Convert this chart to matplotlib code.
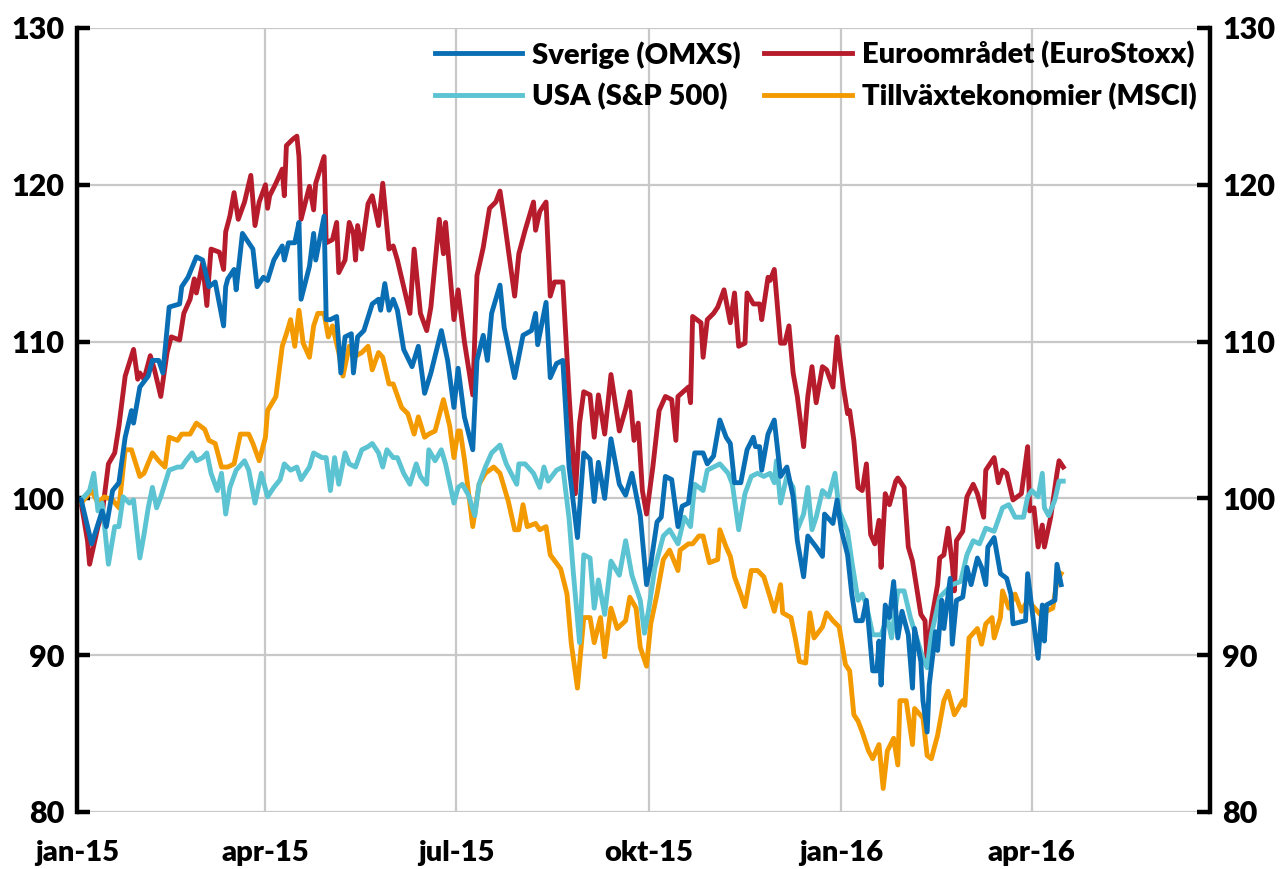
import matplotlib
matplotlib.use('Agg')
import matplotlib.pyplot as plt
import pandas as pd

plt.rcParams['font.family'] = ['Lato', 'DejaVu Sans']
plt.rcParams['font.weight'] = 'heavy'

START = pd.Timestamp('2015-01-01')

# index, 2015-01-01 = 100; x = dagar sedan start
sverige_dag = [0, 2, 7, 12, 14, 17, 20, 23, 26, 27, 30, 34, 36, 39, 41, 44, 49, 50, 53, 57, 60, 63, 66, 70, 71, 72,
               75, 76, 79, 82, 84, 86, 89, 91, 94, 98, 99, 101, 104, 106, 107, 111, 113, 114, 118, 119, 121, 124, 126,
               128, 131, 132, 134, 137, 141, 144, 145, 147, 149, 151, 153, 156, 160, 163, 166, 169, 174, 177, 180, 182,
               185, 189, 191, 194, 196, 198, 202, 204, 209, 213, 217, 219, 220, 224, 226, 229, 232, 235, 239, 242, 245,
               247, 249, 252, 255, 259, 262, 265, 269, 272, 274, 277, 279, 281, 284, 287, 289, 292, 295, 299, 301, 304,
               307, 310, 312, 314, 317, 320, 323, 324, 326, 327, 330, 333, 336, 339, 342, 344, 347, 349, 353, 356, 357,
               361, 363, 365, 368, 370, 372, 375, 377, 380, 382, 383, 384, 386, 388, 390, 392, 394, 397, 399, 400, 403,
               404, 406, 407, 410, 411, 413, 414, 417, 418, 420, 423, 425, 427, 430, 432, 434, 435, 438, 441, 444, 446,
               447, 453, 454, 456, 459, 461, 462, 463, 467, 468, 470]
sverige = [100.0, 99.9, 97.1, 99.2, 98.2, 100.5, 101.0, 103.9, 105.6, 104.8, 107.1, 107.8, 108.8, 108.8, 108.0, 112.2,
           112.4, 113.5, 114.1, 115.4, 115.2, 113.5, 113.8, 111.0, 113.5, 114.0, 114.6, 113.3, 116.9, 116.3, 115.9,
           113.5, 114.1, 113.9, 115.2, 116.1, 115.2, 116.3, 116.3, 117.6, 112.7, 114.8, 116.9, 115.2, 118.0, 111.4,
           111.4, 111.6, 108.0, 110.3, 110.5, 108.0, 110.3, 110.7, 112.4, 112.7, 112.0, 113.7, 112.0, 112.7, 112.0,
           109.5, 108.4, 109.7, 106.7, 108.0, 110.7, 108.8, 105.8, 108.3, 105.2, 103.1, 108.8, 110.4, 108.8, 111.8,
           113.6, 110.9, 107.7, 110.4, 110.7, 111.8, 109.8, 112.5, 107.7, 108.6, 108.8, 102.0, 97.5, 102.9, 102.5,
           99.8, 102.3, 100.0, 103.8, 100.9, 100.2, 101.6, 98.9, 94.5, 95.8, 98.5, 98.8, 101.4, 101.2, 98.2, 99.5,
           99.7, 102.9, 102.9, 102.2, 102.7, 105.0, 103.9, 103.5, 101.0, 101.0, 103.1, 103.9, 103.3, 103.3, 101.8,
           104.1, 105.0, 101.4, 102.0, 100.1, 97.3, 95.0, 97.6, 96.9, 96.3, 99.0, 98.4, 99.9, 98.0, 96.4, 93.9, 92.2,
           92.2, 93.5, 89.0, 89.0, 90.9, 88.1, 93.2, 92.4, 94.7, 91.1, 92.8, 91.3, 87.9, 91.7, 89.6, 87.1, 85.1, 88.1,
           91.5, 90.3, 93.5, 91.7, 94.9, 90.7, 93.5, 93.7, 95.6, 94.5, 96.2, 95.6, 94.5, 96.9, 97.5, 95.2, 94.9, 93.9,
           92.0, 92.2, 95.2, 93.0, 89.8, 93.2, 90.9, 93.2, 93.5, 95.8, 94.5]

euro_dag = [0, 2, 5, 6, 10, 12, 15, 18, 20, 23, 27, 29, 30, 32, 35, 37, 40, 43, 45, 49, 51, 54, 56, 57, 60, 62, 63, 64,
            68, 70, 71, 73, 75, 77, 80, 83, 85, 87, 90, 91, 92, 95, 98, 99, 100, 103, 105, 106, 107, 111, 113, 114, 118,
            119, 122, 124, 125, 128, 130, 132, 133, 134, 136, 139, 141, 144, 146, 149, 151, 153, 156, 159, 161, 164,
            167, 169, 173, 175, 176, 180, 182, 185, 189, 191, 194, 197, 200, 202, 204, 209, 211, 214, 218, 219, 221,
            224, 226, 228, 232, 235, 238, 240, 242, 245, 247, 249, 252, 255, 259, 262, 264, 266, 268, 270, 272, 275,
            278, 281, 284, 286, 287, 292, 293, 294, 298, 299, 301, 304, 306, 309, 312, 314, 316, 319, 320, 323, 326,
            327, 330, 331, 333, 336, 338, 340, 342, 344, 347, 349, 351, 353, 356, 358, 361, 363, 366, 368, 369, 371,
            373, 375, 377, 379, 381, 383, 384, 386, 388, 391, 392, 395, 397, 399, 403, 405, 406, 408, 411, 412, 414,
            416, 418, 419, 420, 423, 425, 428, 430, 433, 434, 438, 440, 442, 444, 447, 451, 454, 455, 457, 459, 461,
            462, 465, 468, 469, 471]
euro = [100.0, 99.7, 97.3, 95.8, 98.2, 99.0, 102.2, 102.9, 104.6, 107.8, 109.5, 107.6, 108.0, 107.6, 109.1, 108.2,
        106.5, 109.3, 110.3, 110.1, 111.8, 112.7, 114.0, 113.1, 115.0, 112.3, 114.2, 115.9, 115.7, 114.6, 117.0, 118.0,
        119.5, 117.8, 118.9, 120.6, 117.4, 118.9, 120.0, 118.5, 119.3, 120.1, 121.0, 119.3, 122.5, 122.9, 123.1, 121.8,
        117.8, 119.9, 118.4, 120.1, 121.8, 116.3, 116.5, 117.6, 114.4, 115.2, 117.6, 116.9, 115.2, 117.4, 115.9, 118.8,
        119.3, 117.4, 120.1, 115.9, 116.1, 115.2, 113.5, 111.8, 115.9, 111.8, 110.7, 112.2, 117.8, 115.6, 117.6, 111.4,
        113.3, 110.0, 106.6, 114.2, 116.0, 118.5, 118.9, 119.6, 117.8, 112.9, 115.6, 117.1, 118.9, 117.1, 118.3, 118.9,
        112.9, 113.8, 113.8, 106.6, 100.3, 104.8, 106.8, 106.6, 103.9, 106.6, 104.1, 107.9, 104.3, 105.7, 106.8, 103.7,
        104.8, 100.5, 99.0, 102.0, 105.6, 106.5, 106.3, 103.7, 106.5, 107.1, 106.1, 111.6, 111.2, 109.0, 111.4, 111.8,
        112.2, 113.3, 111.2, 113.1, 109.7, 109.9, 113.1, 112.4, 112.4, 111.4, 114.1, 113.9, 114.6, 109.9, 109.9, 111.0,
        108.0, 106.5, 103.3, 106.5, 108.4, 106.1, 108.4, 108.2, 107.1, 110.3, 107.1, 105.4, 105.6, 103.7, 100.7, 100.5,
        102.2, 97.7, 97.1, 98.6, 95.6, 100.3, 99.6, 101.1, 101.3, 100.7, 96.9, 96.0, 92.6, 92.2, 89.4, 92.2, 94.5, 96.2,
        96.4, 98.1, 95.8, 94.1, 97.3, 97.9, 100.1, 100.9, 100.3, 98.8, 101.8, 102.6, 101.0, 101.8, 101.6, 99.9, 100.3,
        103.3, 99.2, 99.4, 96.9, 98.3, 96.9, 98.8, 101.6, 102.4, 102.0]

usa_dag = [0, 2, 6, 8, 10, 12, 15, 18, 20, 22, 25, 27, 30, 32, 34, 36, 38, 40, 44, 48, 50, 52, 55, 57, 60, 62, 64, 67,
           69, 71, 73, 76, 80, 82, 85, 88, 91, 94, 97, 99, 102, 105, 107, 111, 113, 117, 119, 121, 123, 125, 128, 130,
           133, 136, 139, 141, 144, 146, 148, 151, 153, 156, 159, 162, 164, 167, 168, 171, 174, 176, 180, 182, 184, 187,
           190, 192, 195, 198, 202, 205, 210, 211, 214, 218, 221, 223, 225, 229, 232, 235, 237, 240, 242, 245, 247, 249,
           252, 255, 259, 262, 265, 269, 271, 273, 276, 280, 283, 287, 290, 293, 295, 299, 301, 304, 307, 311, 313, 316,
           319, 322, 325, 328, 331, 333, 334, 336, 339, 342, 344, 347, 349, 351, 353, 356, 359, 362, 364, 368, 370, 373,
           375, 377, 380, 384, 387, 389, 392, 395, 398, 401, 404, 406, 408, 412, 415, 418, 422, 425, 428, 431, 434, 438,
           442, 445, 448, 452, 454, 456, 459, 461, 462, 464, 467, 469, 471]
usa = [100.0, 99.9, 100.5, 101.6, 99.2, 99.7, 95.8, 98.2, 98.2, 100.1, 99.7, 99.9, 96.2, 97.7, 99.4, 100.7, 99.4, 100.1,
       101.8, 102.0, 102.0, 102.4, 102.9, 102.4, 102.6, 102.9, 101.6, 100.5, 101.6, 99.0, 100.7, 101.8, 102.4, 101.8,
       99.7, 101.6, 100.1, 100.7, 101.2, 102.2, 101.8, 102.0, 101.2, 102.0, 102.9, 102.6, 102.6, 100.5, 102.6, 100.9,
       102.9, 102.2, 102.0, 103.1, 103.3, 103.5, 102.9, 102.0, 103.1, 102.6, 102.6, 101.6, 100.9, 102.2, 101.4, 100.9,
       103.1, 102.4, 103.1, 102.2, 99.7, 100.7, 100.9, 100.2, 98.9, 100.9, 102.0, 102.9, 103.4, 102.2, 100.9, 102.2,
       102.2, 101.6, 100.7, 102.0, 101.1, 101.8, 102.0, 98.7, 95.3, 90.8, 96.4, 96.2, 93.0, 94.8, 92.6, 96.0, 95.1,
       97.3, 95.1, 93.5, 91.4, 92.9, 95.6, 97.6, 98.0, 97.1, 98.8, 98.2, 100.9, 100.5, 101.8, 102.0, 102.2, 101.6,
       100.9, 98.0, 100.3, 101.4, 101.6, 101.4, 101.6, 101.0, 102.4, 99.7, 101.4, 100.7, 98.0, 99.0, 100.7, 98.0, 98.8,
       100.5, 100.1, 101.6, 99.2, 97.9, 96.0, 93.5, 93.9, 93.2, 91.3, 91.3, 92.4, 91.1, 94.1, 94.1, 92.4, 91.1, 89.8,
       89.2, 91.3, 93.7, 94.1, 94.5, 94.7, 96.4, 97.3, 97.1, 98.1, 97.9, 99.4, 99.6, 98.8, 98.8, 100.1, 100.5, 100.1,
       101.6, 99.4, 98.9, 99.9, 101.1, 101.1]

tillv_dag = [0, 2, 7, 10, 13, 17, 20, 23, 26, 30, 32, 36, 39, 42, 44, 48, 50, 54, 57, 61, 63, 66, 69, 72, 75, 78, 82,
             84, 87, 90, 91, 95, 98, 100, 102, 104, 106, 108, 111, 113, 115, 118, 120, 122, 125, 127, 130, 132, 136,
             139, 141, 144, 146, 149, 151, 155, 158, 161, 163, 166, 168, 171, 175, 178, 180, 182, 183, 185, 189, 192,
             195, 199, 202, 206, 209, 211, 213, 215, 219, 221, 224, 226, 231, 234, 236, 239, 242, 245, 247, 250, 252,
             255, 258, 262, 264, 267, 269, 272, 274, 277, 280, 283, 287, 288, 292, 294, 297, 299, 302, 306, 307, 310,
             312, 314, 317, 319, 322, 325, 328, 331, 333, 336, 337, 341, 343, 345, 348, 350, 352, 356, 358, 361, 364,
             367, 369, 371, 373, 375, 378, 380, 383, 385, 387, 390, 392, 393, 396, 399, 400, 404, 406, 408, 411, 414,
             416, 419, 423, 424, 426, 430, 432, 434, 437, 438, 441, 442, 445, 448, 451, 454, 456, 460, 463, 466, 468,
             470]
tillv = [100.0, 99.7, 100.5, 99.7, 100.1, 99.9, 99.4, 103.1, 103.1, 101.4, 101.6, 102.9, 102.4, 102.0, 103.9, 103.7,
         104.1, 104.1, 104.8, 104.4, 103.7, 103.5, 102.0, 102.0, 102.2, 104.1, 104.1, 103.5, 102.4, 103.9, 105.6, 106.5,
         109.7, 110.5, 111.4, 109.7, 112.0, 109.9, 109.0, 111.0, 111.8, 111.8, 110.3, 111.0, 109.3, 107.8, 109.7, 109.0,
         109.3, 109.7, 108.2, 109.3, 109.0, 107.3, 107.3, 105.8, 105.4, 104.1, 105.2, 103.9, 104.1, 104.3, 106.3, 104.6,
         102.6, 104.3, 104.3, 102.5, 98.2, 100.9, 101.6, 102.0, 101.6, 99.8, 98.0, 98.0, 99.6, 98.2, 98.4, 98.0, 98.2,
         96.4, 95.5, 93.9, 90.8, 87.9, 92.4, 92.4, 90.8, 92.4, 89.9, 93.0, 91.7, 92.2, 93.7, 93.0, 90.5, 89.3, 92.0,
         93.9, 96.1, 96.7, 95.4, 96.7, 97.1, 97.1, 97.6, 97.6, 95.9, 96.1, 98.0, 96.9, 96.3, 95.0, 93.9, 93.1, 95.4,
         95.4, 95.0, 93.7, 92.8, 94.5, 92.7, 92.4, 91.1, 89.6, 89.5, 92.7, 91.1, 91.8, 92.7, 92.2, 91.8, 89.4, 89.0,
         86.2, 85.8, 85.1, 83.9, 83.4, 84.3, 81.5, 83.9, 84.7, 83.0, 87.1, 87.1, 84.3, 86.6, 86.0, 83.6, 83.4, 84.9,
         87.1, 87.7, 86.2, 87.1, 86.8, 91.1, 91.7, 90.7, 92.0, 92.4, 91.1, 92.4, 94.1, 93.0, 93.9, 92.8, 93.5, 93.2,
         92.6, 92.8, 93.0, 94.7, 95.2]

serier = [
    ('Sverige (OMXS)', sverige_dag, sverige, '#0A6EB4', 2.6),
    ('Euroområdet (EuroStoxx)', euro_dag, euro, '#B71C2C', 2.2),
    ('USA (S&P 500)', usa_dag, usa, '#5BC3D1', 2.4),
    ('Tillväxtekonomier (MSCI)', tillv_dag, tillv, '#F39A00', 2.3),
]

x_ticks = ['2015-01-01', '2015-04-01', '2015-07-01', '2015-10-01', '2016-01-01', '2016-04-01']
x_labels = ['jan-15', 'apr-15', 'jul-15', 'okt-15', 'jan-16', 'apr-16']
y_ticks = [80, 90, 100, 110, 120, 130]

fig = plt.figure(figsize=(12.88, 8.69), dpi=100)
ax = fig.add_axes([0.0598, 0.0656, 0.8795, 0.9022])

lines = {}
for namn, dag, varde, farg, z in serier:
    datum = START + pd.to_timedelta(dag, unit='D')
    lines[namn], = ax.plot(datum, varde, color=farg, linewidth=3.5, zorder=z, label=namn)

ax.set_ylim(80, 130)
ax.set_xlim(START, pd.Timestamp('2016-06-25'))
ax.set_yticks(y_ticks)
ax.set_xticks(pd.to_datetime(x_ticks))
ax.set_xticklabels(x_labels)

ax.grid(True, color='#C8C8C8', linewidth=1.6, zorder=0)
ax.set_axisbelow(True)

for side in ['top', 'bottom']:
    ax.spines[side].set_visible(False)
for side in ['left', 'right']:
    ax.spines[side].set_linewidth(3.2)
    ax.spines[side].set_color('black')
    ax.spines[side].set_zorder(5)

ax.tick_params(axis='y', which='both', direction='in', length=9.5, width=3.2, labelsize=22,
               left=True, right=True, labelleft=True, labelright=True, pad=9)
ax.tick_params(axis='x', length=0, labelsize=21, pad=20)

# legend utan ram, två kolumner uppe till höger
ordning = ['Sverige (OMXS)', 'USA (S&P 500)', 'Euroområdet (EuroStoxx)', 'Tillväxtekonomier (MSCI)']
leg = ax.legend([lines[n] for n in ordning], ordning, ncol=2, loc='upper right', frameon=False,
                fontsize=21, handlelength=3.0, handletextpad=0.35, columnspacing=0.8, labelspacing=0.5,
                borderpad=0.1, borderaxespad=0.35, bbox_to_anchor=(1.0, 1.0))
for h in leg.get_lines():
    h.set_linewidth(3.5)

fig.savefig('out.png', dpi=100)
